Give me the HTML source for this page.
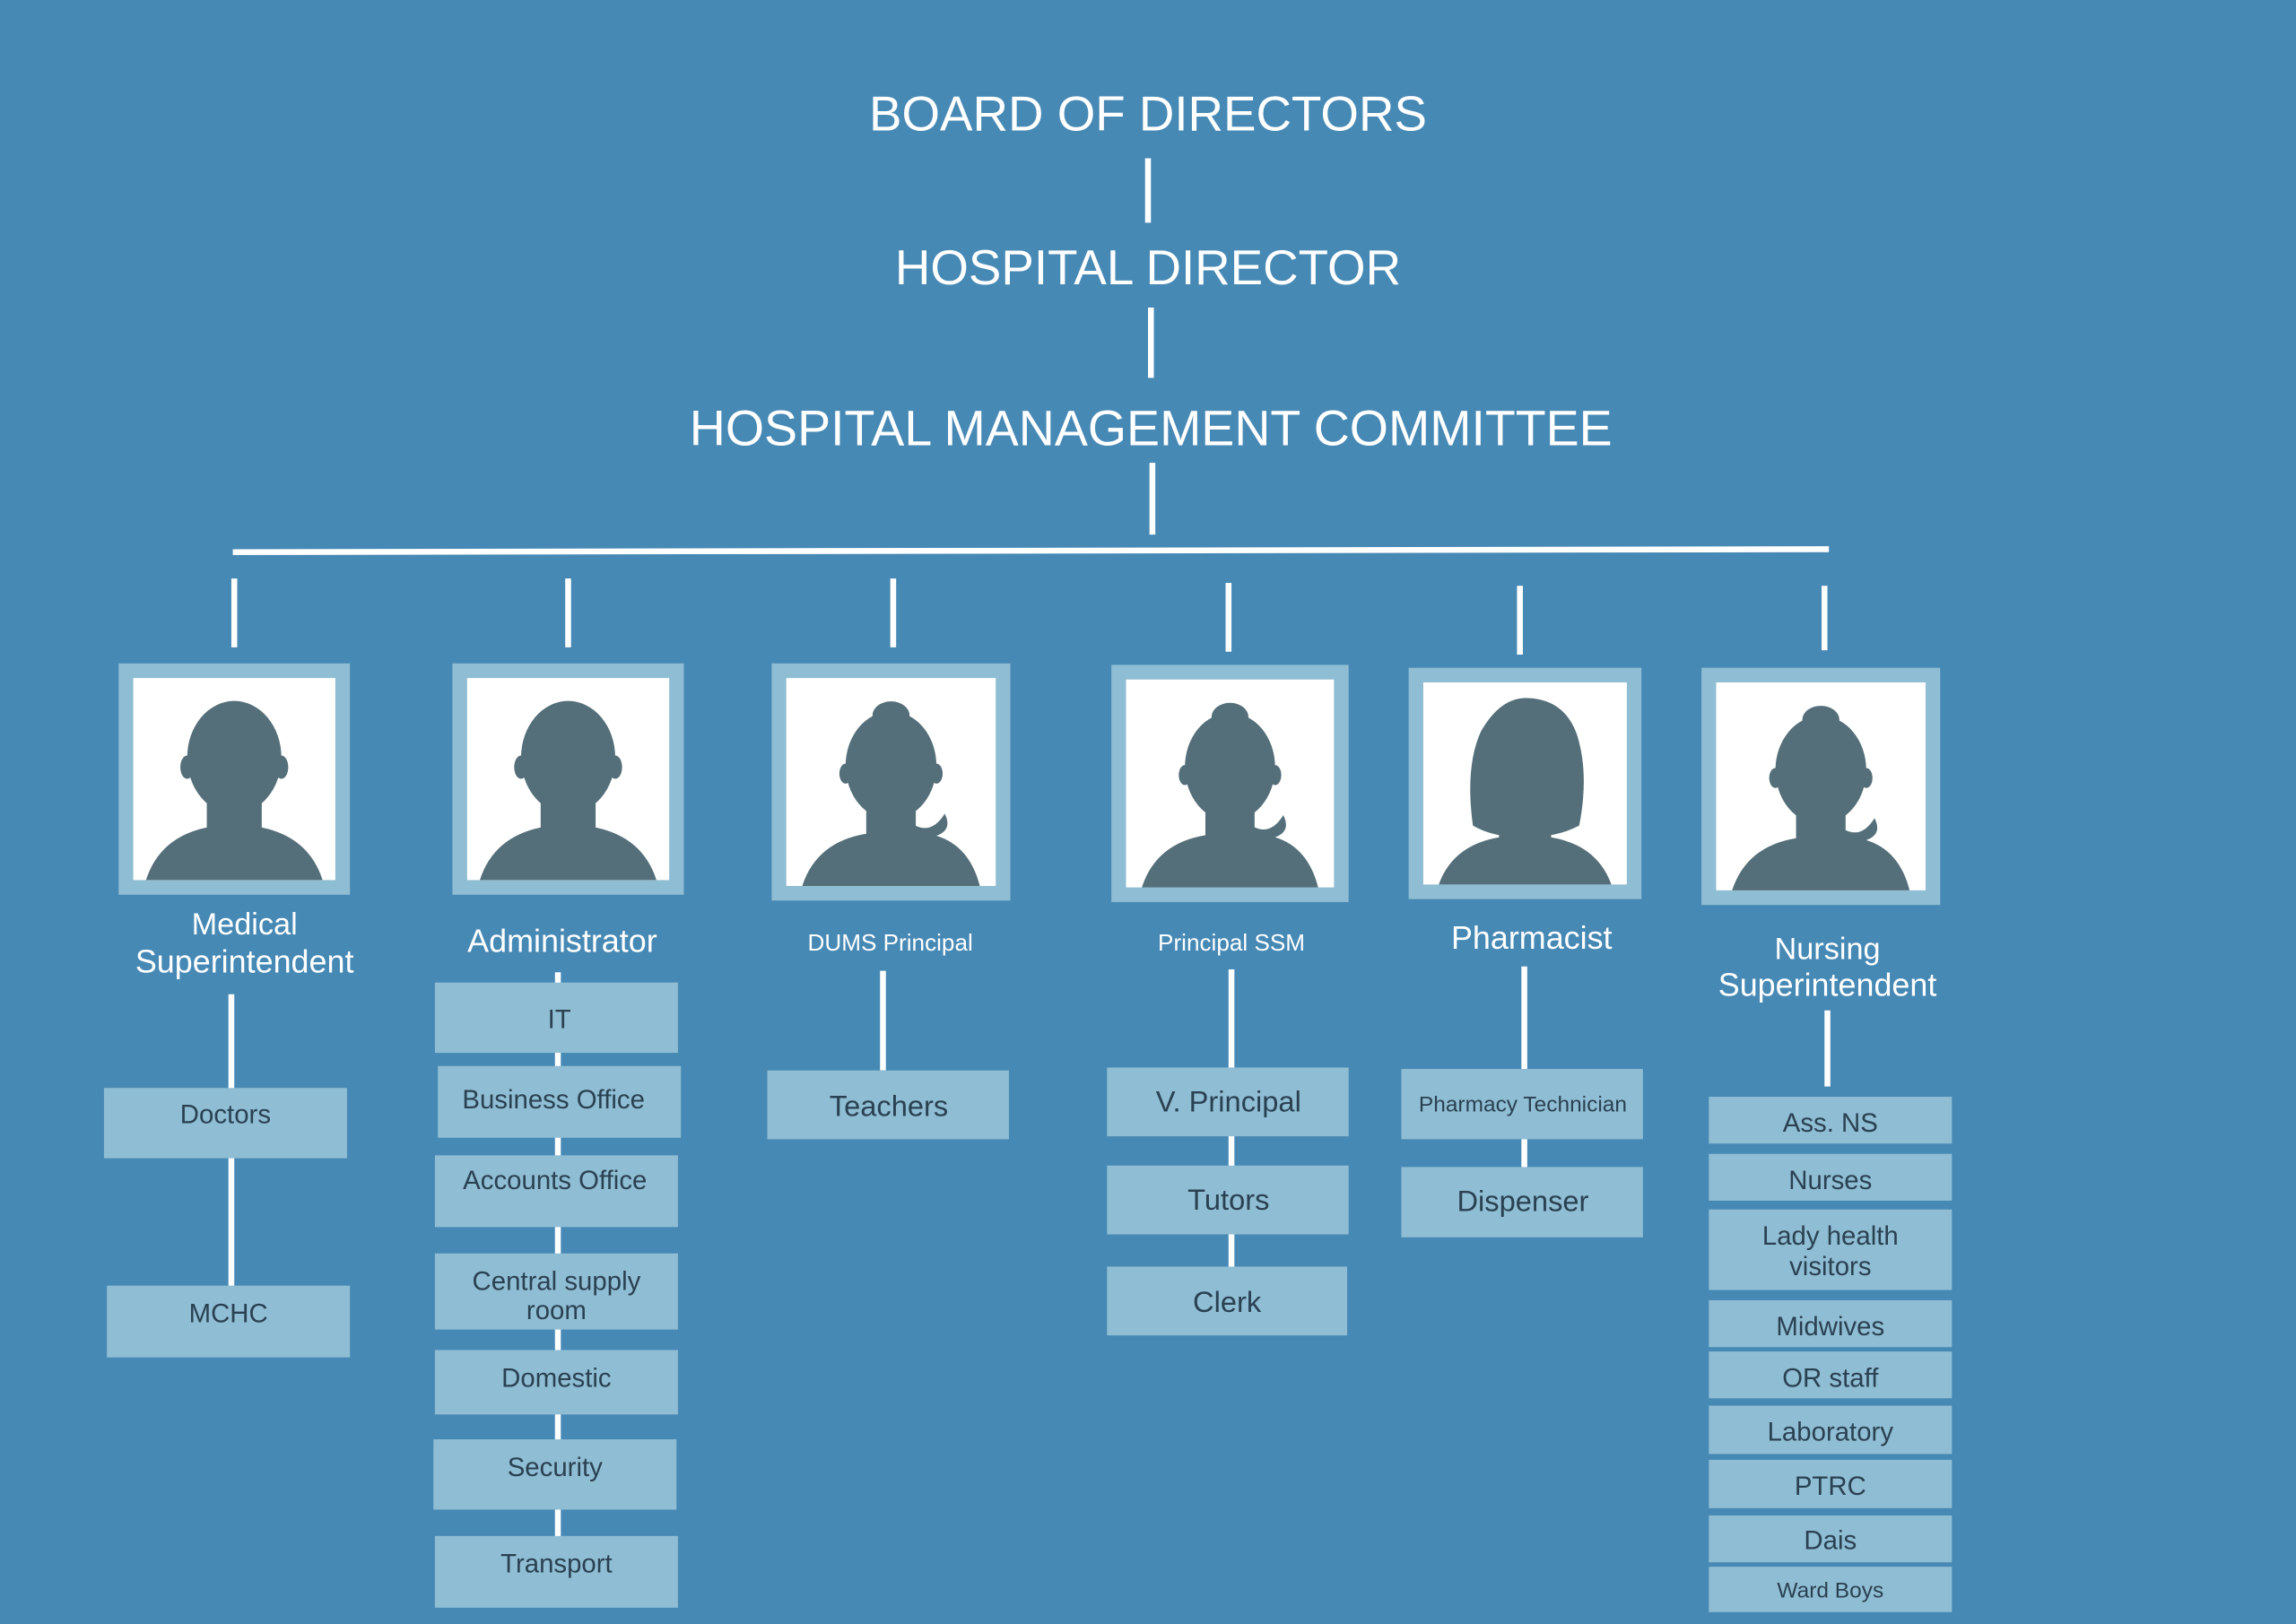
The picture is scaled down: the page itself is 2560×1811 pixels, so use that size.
<!DOCTYPE html>
<html><head><meta charset="utf-8"><style>
html,body{margin:0;padding:0;background:#4789b5;}
svg{display:block}
text{font-family:"Liberation Sans",sans-serif;}
</style></head><body>
<svg width="2560" height="1811" viewBox="0 0 1568 1109" xmlns="http://www.w3.org/2000/svg">
<defs>
<g id="male">
 <path d="M36,58 L36,73 Q12,78 5,100 L95,100 Q88,78 64,73 L64,58 Z" fill="#556f7a"/>
 <ellipse cx="50" cy="37" rx="24" ry="29" fill="#556f7a"/>
 <ellipse cx="26" cy="42" rx="3.5" ry="6" fill="#556f7a"/>
 <ellipse cx="74" cy="42" rx="3.5" ry="6" fill="#556f7a"/>
</g>
<g id="female">
 <path d="M38,60 L38,74 Q14,78 7,100 L93,100 Q88,80 72,75 Q80,72 76,64 Q70,74 62,70 L62,60 Z" fill="#556f7a"/>
 <ellipse cx="50" cy="40" rx="22" ry="27" fill="#556f7a"/>
 <ellipse cx="50" cy="15" rx="9" ry="7" fill="#556f7a"/>
 <ellipse cx="28" cy="44" rx="3" ry="5" fill="#556f7a"/>
 <ellipse cx="72" cy="44" rx="3" ry="5" fill="#556f7a"/>
</g>
<g id="bob">
 <path d="M37,62 L37,76 Q14,80 7,100 L93,100 Q86,80 63,76 L63,62 Z" fill="#556f7a"/>
 <path d="M24,70 Q20,40 28,22 Q38,4 52,5 Q70,6 76,24 Q82,44 77,70 Q66,76 50,76 Q34,76 24,70 Z" fill="#556f7a"/>
</g>
</defs>
<rect width="1568" height="1109" fill="#4789b5"/>
<g fill="#fff" text-anchor="middle">
 <text x="784" y="89" font-size="33.5">BOARD OF DIRECTORS</text>
 <text x="784" y="194" font-size="33.5">HOSPITAL DIRECTOR</text>
 <text x="786" y="304" font-size="34">HOSPITAL MANAGEMENT COMMITTEE</text>
</g>
<g stroke="#fff" stroke-width="4">
 <line x1="784" y1="108" x2="784" y2="152"/>
 <line x1="786" y1="210" x2="786" y2="258"/>
 <line x1="787" y1="316" x2="787" y2="365"/>
 <line x1="159" y1="377" x2="1249" y2="375"/>
 <line x1="160" y1="395" x2="160" y2="442"/>
 <line x1="388" y1="395" x2="388" y2="442"/>
 <line x1="610" y1="395" x2="610" y2="442"/>
 <line x1="839" y1="398" x2="839" y2="445"/>
 <line x1="1038" y1="400" x2="1038" y2="447"/>
 <line x1="1246" y1="400" x2="1246" y2="444"/>
 <line x1="158" y1="679" x2="158" y2="880"/>
 <line x1="381" y1="664" x2="381" y2="1050"/>
 <line x1="603" y1="663" x2="603" y2="731"/>
 <line x1="841" y1="662" x2="841" y2="866"/>
 <line x1="1041" y1="660" x2="1041" y2="798"/>
 <line x1="1248" y1="690" x2="1248" y2="742"/>
</g>
<g fill="#8fbdd3">
 <rect x="81" y="453" width="158" height="158"/>
 <rect x="309" y="453" width="158" height="158"/>
 <rect x="527" y="453" width="163" height="162"/>
 <rect x="759" y="454" width="162" height="162"/>
 <rect x="962" y="456" width="159" height="158"/>
 <rect x="1162" y="456" width="163" height="162"/>
</g>
<g fill="#fff">
 <rect x="91" y="463" width="138" height="138"/>
 <rect x="319" y="463" width="138" height="138"/>
 <rect x="537" y="463" width="143" height="142"/>
 <rect x="769" y="464" width="142" height="142"/>
 <rect x="972" y="466" width="139" height="138"/>
 <rect x="1172" y="466" width="143" height="142"/>
</g>
<use href="#male" transform="translate(93,468) scale(1.34,1.33)"/>
<use href="#male" transform="translate(321,468) scale(1.34,1.33)"/>
<use href="#female" transform="translate(538,468) scale(1.41,1.37)"/>
<use href="#female" transform="translate(770,469) scale(1.40,1.37)"/>
<use href="#bob" transform="translate(973,470) scale(1.37,1.34)"/>
<use href="#female" transform="translate(1173,471) scale(1.41,1.37)"/>
<g fill="#fff" text-anchor="middle">
 <text x="167" y="638" font-size="21">Medical</text>
 <text x="167" y="664" font-size="22">Superintendent</text>
 <text x="384" y="650" font-size="22">Administrator</text>
 <text x="608" y="649" font-size="16">DUMS Principal</text>
 <text x="841" y="649" font-size="16">Principal SSM</text>
 <text x="1046" y="648" font-size="22">Pharmacist</text>
 <text x="1248" y="655" font-size="21">Nursing</text>
 <text x="1248" y="680" font-size="22">Superintendent</text>
</g>
<g fill="#8fbdd3">
 <rect x="71" y="743" width="166" height="48"/>
 <rect x="73" y="878" width="166" height="49"/>
 <rect x="297" y="671" width="166" height="48"/>
 <rect x="299" y="728" width="166" height="49"/>
 <rect x="297" y="789" width="166" height="49"/>
 <rect x="297" y="856" width="166" height="52"/>
 <rect x="297" y="922" width="166" height="44"/>
 <rect x="296" y="983" width="166" height="48"/>
 <rect x="297" y="1049" width="166" height="49"/>
 <rect x="524" y="731" width="165" height="47"/>
 <rect x="756" y="729" width="165" height="47"/>
 <rect x="756" y="796" width="165" height="47"/>
 <rect x="756" y="865" width="164" height="47"/>
 <rect x="957" y="730" width="165" height="48"/>
 <rect x="957" y="797" width="165" height="48"/>
 <rect x="1167" y="749" width="166" height="32"/>
 <rect x="1167" y="788" width="166" height="32"/>
 <rect x="1167" y="826" width="166" height="55"/>
 <rect x="1167" y="888" width="166" height="32"/>
 <rect x="1167" y="923" width="166" height="32"/>
 <rect x="1167" y="960" width="166" height="33"/>
 <rect x="1167" y="997" width="166" height="33"/>
 <rect x="1167" y="1035" width="166" height="32"/>
 <rect x="1167" y="1070" width="166" height="31"/>
</g>
<g fill="#2a4152" text-anchor="middle" font-size="18">
 <text x="154" y="767">Doctors</text>
 <text x="156" y="903">MCHC</text>
 <text x="382" y="702">IT</text>
 <text x="378" y="757">Business Office</text>
 <text x="379" y="812">Accounts Office</text>
 <text x="380" y="881">Central supply</text>
 <text x="380" y="901">room</text>
 <text x="380" y="947">Domestic</text>
 <text x="379" y="1008">Security</text>
 <text x="380" y="1074">Transport</text>
 <text x="607" y="762" font-size="20">Teachers</text>
 <text x="839" y="759" font-size="20">V. Principal</text>
 <text x="839" y="826" font-size="20">Tutors</text>
 <text x="838" y="896" font-size="20">Clerk</text>
 <text x="1040" y="759" font-size="15">Pharmacy Technician</text>
 <text x="1040" y="827" font-size="20">Dispenser</text>
 <text x="1250" y="773">Ass. NS</text>
 <text x="1250" y="812">Nurses</text>
 <text x="1250" y="850">Lady health</text>
 <text x="1250" y="871">visitors</text>
 <text x="1250" y="912">Midwives</text>
 <text x="1250" y="947">OR staff</text>
 <text x="1250" y="984">Laboratory</text>
 <text x="1250" y="1021">PTRC</text>
 <text x="1250" y="1058">Dais</text>
 <text x="1250" y="1091" font-size="15">Ward Boys</text>
</g>
</svg>
</body></html>
